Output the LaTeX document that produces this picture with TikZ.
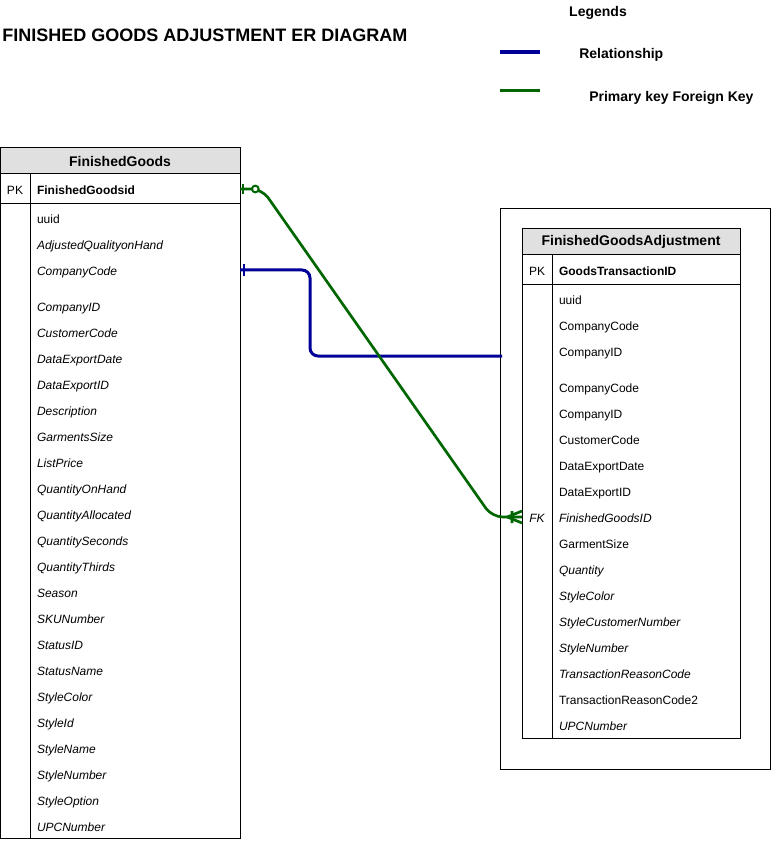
\documentclass[tikz,border=0pt]{standalone}
\usepackage{fontspec}
\setmainfont{Liberation Sans}
\usetikzlibrary{positioning}
\definecolor{relblue}{RGB}{0,0,153}
\definecolor{fkgreen}{RGB}{0,102,0}
\tikzset{
  tablehead/.style={
    rectangle,
    draw=black, line width=0.75pt,
    fill=black!12,
    minimum height=19.5pt,
    inner sep=0pt, outer sep=0pt,
    font=\bfseries\fontsize{10.5}{12}\selectfont},
  tablebox/.style={rectangle, draw=black, line width=0.75pt, inner sep=0pt, outer sep=0pt},
  keycell/.style={
    minimum width=22.5pt,
    minimum height=19.5pt,
    inner sep=0pt, outer sep=0pt,
    text height=10.5pt,
    text depth=2.5pt,
    font=\fontsize{9}{11}\selectfont},
  field/.style={
    rectangle,
    inner xsep=5.25pt,
    inner ysep=0pt,
    outer sep=0pt,
    minimum height=19.5pt,
    text height=10.5pt,
    text depth=2.5pt,
    align=left,
    font=\fontsize{9}{11}\selectfont},
  fgfield/.style={field, text width=147pt},
  fgafield/.style={field, text width=130.5pt},
  relline/.style={draw=relblue, line width=2.25pt, rounded corners=6pt},
  fkline/.style={draw=fkgreen, line width=2pt, rounded corners=8pt},
  legendtext/.style={font=\bfseries\fontsize{10.5}{12}\selectfont},
}

\begin{document}
\begin{tikzpicture}[x=0.75pt, y=-0.75pt, node distance=0pt]
  \useasboundingbox (0,0) rectangle (771,841);
  % title and legends
  \node[anchor=west, inner sep=0pt, font=\bfseries\fontsize{13.5}{16}\selectfont] (title) at (2,35) {FINISHED GOODS ADJUSTMENT ER DIAGRAM};
  \node[legendtext] (legends) at (598,12.5) {Legends};
  \coordinate (relA) at (500,52);
  \coordinate (relB) at (540,52);
  \coordinate (fkA) at (500,91);
  \coordinate (fkB) at (540,91);
  \draw[relblue, line width=3pt] (relA) -- (relB);
  \draw[fkgreen, line width=2.25pt] (fkA) -- (fkB);
  \node[legendtext, anchor=west, inner sep=0pt] (relText) at (579,54.5) {Relationship};
  \node[legendtext, anchor=west, inner sep=0pt] (fkText) at (589,97.5) {Primary key Foreign Key};

  % FinishedGoods
  \node[tablehead, minimum width=180pt] (fgHead) at (120,161) {FinishedGoods};
  \node[tablebox, minimum width=180pt, minimum height=22.5pt, below=of fgHead] (fgKey) {};
  \node[tablebox, minimum width=180pt, minimum height=475.5pt, below=of fgKey] (fgBody) {};
  \draw[line width=0.75pt] ([xshift=22.5pt]fgKey.north west) -- ([xshift=22.5pt]fgBody.south west);
  \node[keycell] (fgPK) at (15,189) {PK};
  \node[fgfield, font=\bfseries\fontsize{9}{11}\selectfont] (fgId) at (135,189) {FinishedGoodsid};
  \node[fgfield] (fgUuid) at (135,218) {uuid};
  \node[fgfield, below=of fgUuid] (fgAdjQty) {\textit{AdjustedQualityonHand}};
  \node[fgfield, below=of fgAdjQty] (fgCompanyCode) {\textit{CompanyCode}};
  \node[fgfield, below=7.5pt of fgCompanyCode] (fgCompanyID) {\textit{CompanyID}};
  \node[fgfield, below=of fgCompanyID] (fgCustomerCode) {\textit{CustomerCode}};
  \node[fgfield, below=of fgCustomerCode] (fgExportDate) {\textit{DataExportDate}};
  \node[fgfield, below=of fgExportDate] (fgExportID) {\textit{DataExportID}};
  \node[fgfield, below=of fgExportID] (fgDescription) {\textit{Description}};
  \node[fgfield, below=of fgDescription] (fgSize) {\textit{GarmentsSize}};
  \node[fgfield, below=of fgSize] (fgListPrice) {\textit{ListPrice}};
  \node[fgfield, below=of fgListPrice] (fgQtyOnHand) {\textit{QuantityOnHand}};
  \node[fgfield, below=of fgQtyOnHand] (fgQtyAllocated) {\textit{QuantityAllocated}};
  \node[fgfield, below=of fgQtyAllocated] (fgQtySeconds) {\textit{QuantitySeconds}};
  \node[fgfield, below=of fgQtySeconds] (fgQtyThirds) {\textit{QuantityThirds}};
  \node[fgfield, below=of fgQtyThirds] (fgSeason) {\textit{Season}};
  \node[fgfield, below=of fgSeason] (fgSKU) {\textit{SKUNumber}};
  \node[fgfield, below=of fgSKU] (fgStatusID) {\textit{StatusID}};
  \node[fgfield, below=of fgStatusID] (fgStatusName) {\textit{StatusName}};
  \node[fgfield, below=of fgStatusName] (fgStyleColor) {\textit{StyleColor}};
  \node[fgfield, below=of fgStyleColor] (fgStyleId) {\textit{StyleId}};
  \node[fgfield, below=of fgStyleId] (fgStyleName) {\textit{StyleName}};
  \node[fgfield, below=of fgStyleName] (fgStyleNumber) {\textit{StyleNumber}};
  \node[fgfield, below=of fgStyleNumber] (fgStyleOption) {\textit{StyleOption}};
  \node[fgfield, below=of fgStyleOption] (fgUPC) {\textit{UPCNumber}};

  % FinishedGoodsAdjustment
  \node[tablebox, minimum width=202.5pt, minimum height=420pt] (fgaFrame) at (635,489) {};
  \node[tablehead, minimum width=163.5pt] (fgaHead) at (631,242) {FinishedGoodsAdjustment};
  \node[tablebox, minimum width=163.5pt, minimum height=22.5pt, below=of fgaHead] (fgaKey) {};
  \node[tablebox, minimum width=163.5pt, minimum height=339.75pt, below=of fgaKey] (fgaBody) {};
  \draw[line width=0.75pt] ([xshift=22.5pt]fgaKey.north west) -- ([xshift=22.5pt]fgaBody.south west);
  \node[keycell] (fgaPK) at (537,270) {PK};
  \node[fgafield, font=\bfseries\fontsize{9}{11}\selectfont] (fgaId) at (646,270) {GoodsTransactionID};
  \node[fgafield] (fgaUuid) at (646,299) {uuid};
  \node[fgafield, below=of fgaUuid] (fgaCompanyCode) {CompanyCode};
  \node[fgafield, below=of fgaCompanyCode] (fgaCompanyID) {CompanyID};
  \node[fgafield, below=7.5pt of fgaCompanyID] (fgaCompanyCodeB) {CompanyCode};
  \node[fgafield, below=of fgaCompanyCodeB] (fgaCompanyIDB) {CompanyID};
  \node[fgafield, below=of fgaCompanyIDB] (fgaCustomerCode) {CustomerCode};
  \node[fgafield, below=of fgaCustomerCode] (fgaExportDate) {DataExportDate};
  \node[fgafield, below=of fgaExportDate] (fgaExportID) {DataExportID};
  \node[fgafield, below=of fgaExportID] (fgaGoodsID) {\textit{FinishedGoodsID}};
  \node[keycell, font=\itshape\fontsize{9}{11}\selectfont, left=of fgaGoodsID] (fgaFK) {FK};
  \node[fgafield, below=of fgaGoodsID] (fgaSize) {GarmentSize};
  \node[fgafield, below=of fgaSize] (fgaQuantity) {\textit{Quantity}};
  \node[fgafield, below=of fgaQuantity] (fgaStyleColor) {\textit{StyleColor}};
  \node[fgafield, below=of fgaStyleColor] (fgaStyleCustomer) {\textit{StyleCustomerNumber}};
  \node[fgafield, below=of fgaStyleCustomer] (fgaStyleNumber) {\textit{StyleNumber}};
  \node[fgafield, below=of fgaStyleNumber] (fgaReason) {\textit{TransactionReasonCode}};
  \node[fgafield, below=of fgaReason] (fgaReasonB) {TransactionReasonCode2};
  \node[fgafield, below=of fgaReasonB] (fgaUPC) {\textit{UPCNumber}};

  % connectors
  \coordinate (relEnd) at (502,356);
  \draw[relline] (fgCompanyCode.east) -- (310,270) -- (310,356) -- (relEnd);
  \draw[relblue, line width=2pt] ([xshift=3pt]fgCompanyCode.east) +(0,-6) -- +(0,6);
  \draw[fkline] (fgId.east) -- (262,189) -- (492,517) -- (fgaFK.west);
  \draw[fkgreen, line width=2pt] ([xshift=2.25pt]fgId.east) +(0,-5) -- +(0,5);
  \draw[fkgreen, line width=1.5pt, fill=white] ([xshift=11.5pt]fgId.east) circle[radius=2.5pt];
  \draw[fkgreen, line width=2pt] ([xshift=-11pt]fgaFK.west) -- ([yshift=4.5pt]fgaFK.west)
    ([xshift=-11pt]fgaFK.west) -- ([yshift=-4.5pt]fgaFK.west)
    ([xshift=-7.5pt]fgaFK.west) +(0,-6) -- +(0,6);
\end{tikzpicture}
\end{document}
